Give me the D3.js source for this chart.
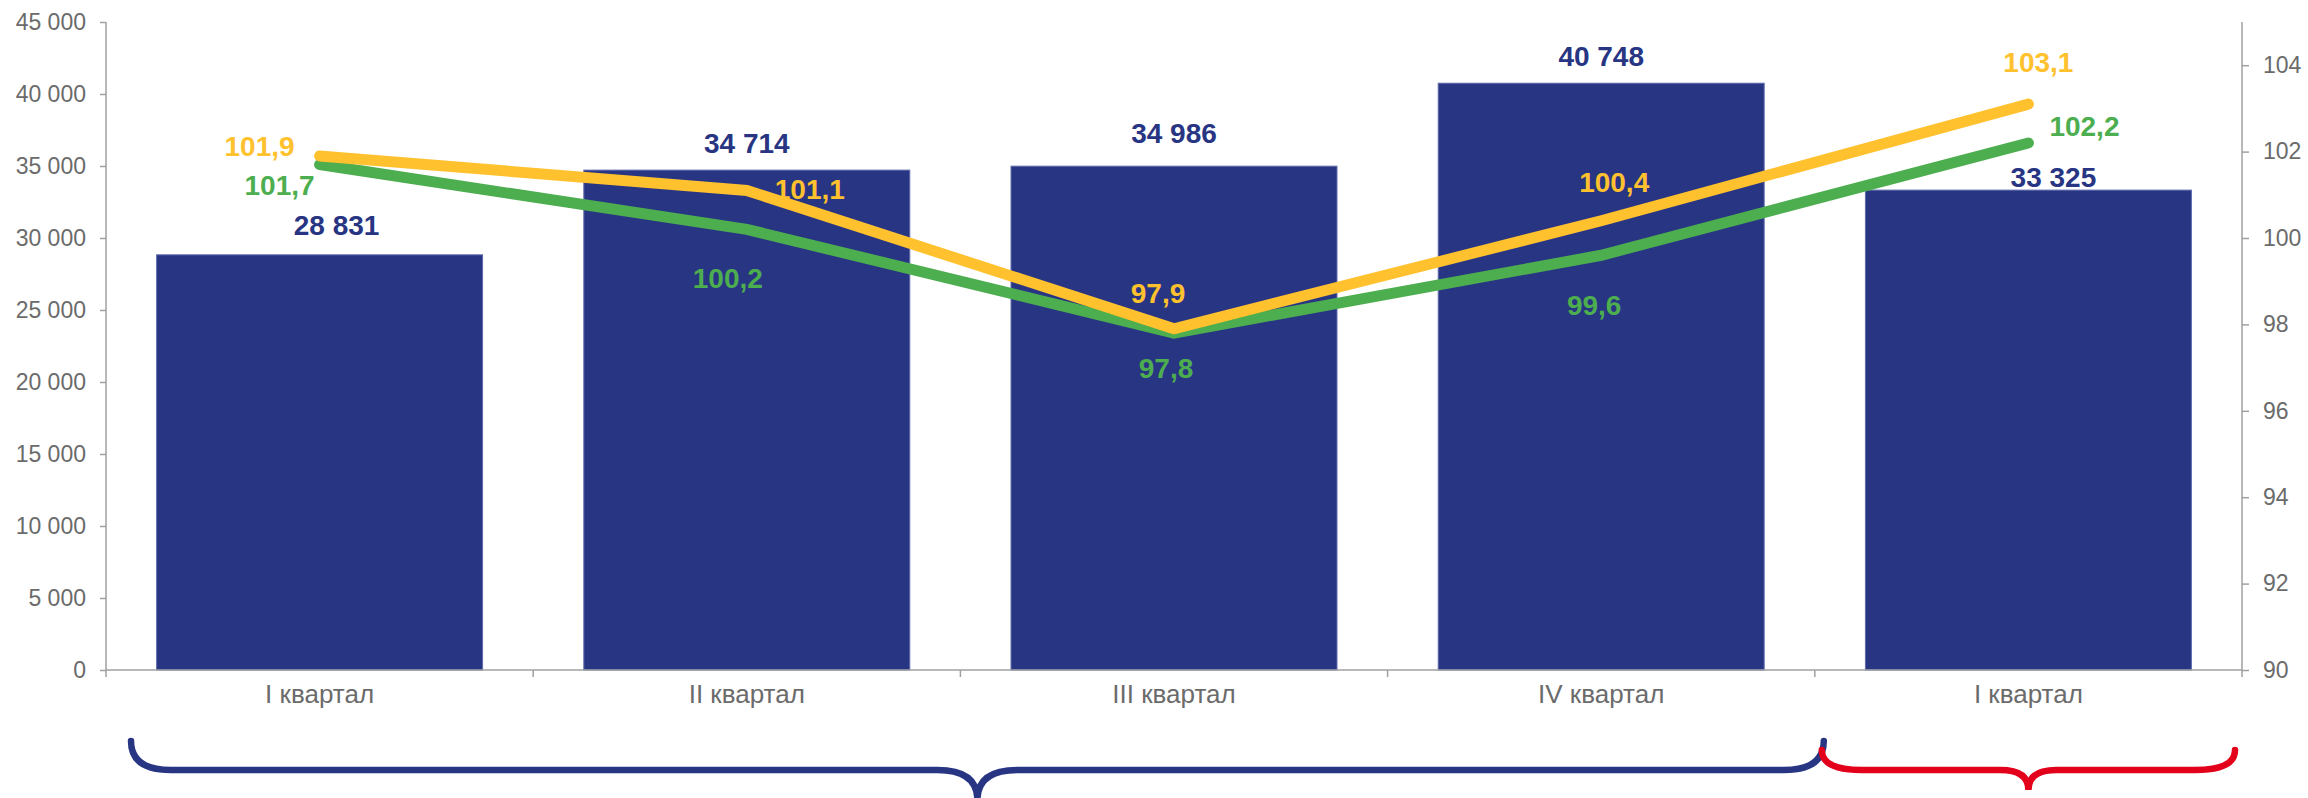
<!DOCTYPE html>
<html>
<head>
<meta charset="utf-8">
<script src="https://cdn.jsdelivr.net/npm/d3@7"></script>
<style>
  html, body { margin: 0; padding: 0; background: #fff; }
  svg { display: block; font-family: "Liberation Sans", Arial, sans-serif; }
</style>
</head>
<body>
<div id="chart"></div>
<script>
// данные
let quarters = ["I квартал", "II квартал", "III квартал", "IV квартал", "I квартал"];
let volumes = [28831, 34714, 34986, 40748, 33325];
let indexYellow = [101.9, 101.1, 97.9, 100.4, 103.1];
let indexGreen = [101.7, 100.2, 97.8, 99.6, 102.2];
let leftTicks = [0, 5000, 10000, 15000, 20000, 25000, 30000, 35000, 40000, 45000];
let rightTicks = [90, 92, 94, 96, 98, 100, 102, 104];

let w = 2308;
let h = 798;
let margin = {top: 22, right: 66, bottom: 128, left: 106};

let navy = "#283583";
let yellow = "#FFC12E";
let green = "#4DAE4F";
let red = "#E3001B";
let grey = "#6b6b6b";
let axisGrey = "#a0a0a0";

let ru = d3.formatLocale({decimal: ",", thousands: " ", grouping: [3], currency: ["", ""]});
let fmtInt = ru.format(",d");
let fmt1 = ru.format(".1f");

let svg = d3.select("#chart")
    .append("svg")
    .attr("width", w)
    .attr("height", h);

let x = d3.scaleBand()
    .domain(d3.range(quarters.length))
    .range([margin.left, w - margin.right])
    .paddingInner(0.237)
    .paddingOuter(0.1185);

let y = d3.scaleLinear()
    .domain([0, 45000])
    .range([h - margin.bottom, margin.top]);

let y2 = d3.scaleLinear()
    .domain([90, 105])
    .range([h - margin.bottom, margin.top]);

let step = (w - margin.right - margin.left) / quarters.length;
let cx = function(i) { return x(i) + x.bandwidth() / 2; };

// оси
let leftAxis = svg.append("g")
    .attr("transform", "translate(" + margin.left + ",0)")
    .call(d3.axisLeft(y).tickValues(leftTicks).tickSize(6).tickPadding(14)
        .tickFormat(fmtInt));

let rightAxis = svg.append("g")
    .attr("transform", "translate(" + (w - margin.right) + ",0)")
    .call(d3.axisRight(y2).tickValues(rightTicks).tickSize(7).tickPadding(14));

[leftAxis, rightAxis].forEach(function(a) {
    a.select(".domain").attr("stroke", axisGrey).attr("stroke-width", 1.5)
        .attr("d", a === leftAxis
            ? "M0," + y.range()[1] + "V" + y.range()[0]
            : "M0," + y2.range()[1] + "V" + y2.range()[0]);
    a.selectAll(".tick line").attr("stroke", axisGrey).attr("stroke-width", 1.5);
    a.selectAll(".tick text")
        .attr("fill", grey)
        .attr("font-size", "23px")
        .attr("font-family", '"Liberation Sans", Arial, sans-serif');
});

// столбцы
svg.selectAll("rect.bar")
    .data(volumes)
    .enter()
    .append("rect")
    .attr("class", "bar")
    .attr("x", function(d, i) { return x(i); })
    .attr("y", function(d) { return y(d); })
    .attr("width", x.bandwidth())
    .attr("height", function(d) { return y(0) - y(d); })
    .attr("fill", navy)
    .attr("stroke", "#5d69ab")
    .attr("stroke-width", 1);

// ось категорий
let xBase = y(0);
svg.append("line")
    .attr("x1", margin.left).attr("x2", w - margin.right)
    .attr("y1", xBase).attr("y2", xBase)
    .attr("stroke", axisGrey).attr("stroke-width", 1.5);

svg.selectAll("line.xtick")
    .data(d3.range(quarters.length + 1))
    .enter()
    .append("line")
    .attr("class", "xtick")
    .attr("x1", function(d) { return margin.left + d * step; })
    .attr("x2", function(d) { return margin.left + d * step; })
    .attr("y1", xBase)
    .attr("y2", xBase + 7)
    .attr("stroke", axisGrey)
    .attr("stroke-width", 1.5);

svg.selectAll("text.xlabel")
    .data(quarters)
    .enter()
    .append("text")
    .attr("class", "xlabel")
    .text(function(d) { return d; })
    .attr("x", function(d, i) { return cx(i); })
    .attr("y", xBase + 33)
    .attr("text-anchor", "middle")
    .attr("font-size", "26px")
    .attr("fill", grey);

// линии
let lineGreen = d3.line()
    .x(function(d, i) { return cx(i); })
    .y(function(d) { return y2(d); });

[[indexGreen, green], [indexYellow, yellow]].forEach(function(s) {
    svg.append("path")
        .datum(s[0])
        .attr("d", lineGreen)
        .attr("fill", "none")
        .attr("stroke", s[1])
        .attr("stroke-width", 11)
        .attr("stroke-linecap", "round")
        .attr("stroke-linejoin", "miter");
});

// подписи столбцов (сдвиги подобраны вручную)
let barLabelShift = [[17, -20], [0, -17], [0, -23], [0, -17], [25, -3]];
svg.selectAll("text.barlabel")
    .data(volumes)
    .enter()
    .append("text")
    .attr("class", "barlabel")
    .text(function(d) { return fmtInt(d); })
    .attr("x", function(d, i) { return cx(i) + barLabelShift[i][0]; })
    .attr("y", function(d, i) { return y(d) + barLabelShift[i][1]; })
    .attr("text-anchor", "middle")
    .attr("font-size", "28px")
    .attr("font-weight", "bold")
    .attr("fill", navy);

// подписи линий
let yellowShift = [[-25, 0, "end"], [28, 9, "start"], [-16, -26, "middle"], [13, -29, "middle"], [10, -32, "middle"]];
let greenShift = [[-40, 30, "middle"], [-19, 59, "middle"], [-8, 45, "middle"], [-7, 60, "middle"], [21, -7, "start"]];

[[indexGreen, green, greenShift], [indexYellow, yellow, yellowShift]].forEach(function(s) {
    svg.append("g").selectAll("text")
        .data(s[0])
        .enter()
        .append("text")
        .text(function(d) { return fmt1(d); })
        .attr("x", function(d, i) { return cx(i) + s[2][i][0]; })
        .attr("y", function(d, i) { return y2(d) + s[2][i][1]; })
        .attr("text-anchor", function(d, i) { return s[2][i][2]; })
        .attr("font-size", "28px")
        .attr("font-weight", "bold")
        .attr("fill", s[1]);
});

// фигурные скобки под осью
function brace(x0, x1, yTop, yMid, tipY, r, rt) {
    let c = (x0 + x1) / 2;
    return "M" + x0 + "," + yTop +
        "Q" + x0 + "," + yMid + " " + (x0 + r) + "," + yMid +
        "L" + (c - rt) + "," + yMid +
        "Q" + c + "," + yMid + " " + c + "," + tipY +
        "Q" + c + "," + yMid + " " + (c + rt) + "," + yMid +
        "L" + (x1 - r) + "," + yMid +
        "Q" + x1 + "," + yMid + " " + x1 + "," + yTop;
}

let braces = [
    {x0: margin.left + 25, x1: margin.left + 4 * step + 9, top: 741, tip: 800, rt: 40, color: navy},
    {x0: margin.left + 4 * step + 7, x1: w - margin.right - 7, top: 750, tip: 790, rt: 28, color: red}
];

svg.selectAll("path.brace")
    .data(braces)
    .enter()
    .append("path")
    .attr("class", "brace")
    .attr("d", function(d) { return brace(d.x0, d.x1, d.top, 770, d.tip, 40, d.rt); })
    .attr("fill", "none")
    .attr("stroke", function(d) { return d.color; })
    .attr("stroke-width", 6.5)
    .attr("stroke-linecap", "round");
</script>
</body>
</html>
